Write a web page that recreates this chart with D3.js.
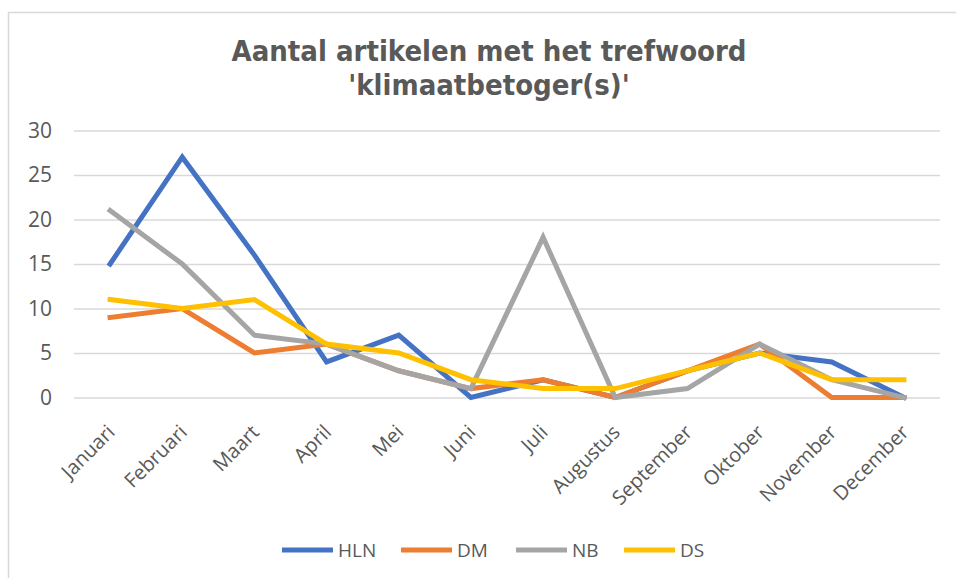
<!DOCTYPE html>
<html><head><meta charset="utf-8">
<script src="https://cdn.jsdelivr.net/npm/d3@7"></script>
<style>html,body{margin:0;padding:0;background:#fff;}svg{display:block;}</style>
</head><body>
<script>
const months = ["Januari","Februari","Maart","April","Mei","Juni","Juli","Augustus","September","Oktober","November","December"];
const seriesNames = ["HLN","DM","NB","DS"];
const HLN = [15,27,16,4,7,0,2,0,3,5,4,0];
const DM  = [9,10,5,6,3,1,2,0,3,6,0,0];
const NB  = [21,15,7,6,3,1,18,0,1,6,2,0];
const DS  = [11,10,11,6,5,2,1,1,3,5,2,2];
const yTicks = [0,5,10,15,20,25,30];
const colors = ["#4472C4","#ED7D31","#A5A5A5","#FFC000"];
const series = [HLN,DM,NB,DS];

const W=956,H=578;
const svg=d3.select("body").append("svg").attr("width",W).attr("height",H);
svg.append("rect").attr("x",8.5).attr("y",12.5).attr("width",W).attr("height",H).attr("fill","#fff").attr("stroke","#d9d9d9").attr("stroke-width",1.5);

const x=d3.scaleBand().domain(months).range([74,940]);
const y=d3.scaleLinear().domain([0,30]).range([397.5,130.5]);

const font="'Open Sans', sans-serif";
svg.append("text").attr("x",489).attr("y",61).attr("text-anchor","middle")
 .attr("font-family","'DejaVu Sans Condensed','DejaVu Sans',sans-serif").attr("font-stretch","condensed").attr("font-weight","bold").attr("font-size",29).attr("fill","#595959")
 .selectAll("tspan").data(["Aantal artikelen met het trefwoord","'klimaatbetoger(s)'"]).join("tspan")
 .attr("x",489).attr("dy",(d,i)=>i?34:0).text(d=>d);

const yAxis=svg.append("g").attr("transform","translate(74,0)")
 .call(d3.axisLeft(y).tickValues(yTicks).tickSize(-866).tickPadding(22));
yAxis.select(".domain").remove();
yAxis.selectAll(".tick line").attr("stroke","#d9d9d9").attr("stroke-width",1.5);
yAxis.selectAll(".tick text").attr("font-family",font).attr("font-size",21).attr("fill","#595959");

const xAxis=svg.append("g").attr("transform","translate(0,397.5)")
 .call(d3.axisBottom(x).tickSize(0).tickPadding(0));
xAxis.select(".domain").remove();
xAxis.selectAll(".tick text").attr("font-family",font).attr("font-size",20).attr("fill","#595959")
 .attr("text-anchor","end").attr("dy",0).attr("transform","translate(6,36) rotate(-45)");

const line=d3.line().x((d,i)=>x(months[i])+x.bandwidth()/2).y(d=>y(d));
series.forEach((s,k)=>{
 svg.append("path").datum(s).attr("d",line).attr("fill","none").attr("stroke",colors[k])
  .attr("stroke-width",5).attr("stroke-linejoin","miter").attr("stroke-linecap","square");
});

const lx=[282,401,516,624];
const lg=svg.append("g");
seriesNames.forEach((n,k)=>{
 lg.append("line").attr("x1",lx[k]).attr("x2",lx[k]+51).attr("y1",550).attr("y2",550).attr("stroke",colors[k]).attr("stroke-width",5);
 lg.append("text").attr("x",lx[k]+56).attr("y",557).attr("font-family",font).attr("font-size",19).attr("fill","#595959").text(n);
});
</script>
</body></html>
